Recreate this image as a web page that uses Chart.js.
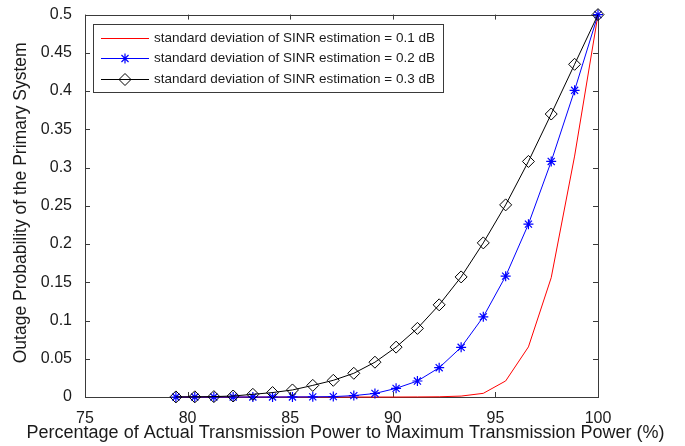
<!DOCTYPE html>
<html>
<head>
<meta charset="utf-8">
<script src="https://cdn.jsdelivr.net/npm/chart.js@4.4.1/dist/chart.umd.min.js"></script>
<style>
  html, body { margin: 0; padding: 0; background: #ffffff; }
  canvas { display: block; }
</style>
</head>
<body>
<canvas id="outageChart" width="685" height="446"></canvas>
<script>
// Transmit power as a percentage of the maximum (x axis)
const powerPct = [79.43, 80.35, 81.28, 82.22, 83.18, 84.14, 85.11, 86.10, 87.10, 88.10,
                  89.13, 90.16, 91.20, 92.26, 93.33, 94.41, 95.50, 96.61, 97.72, 98.86, 100];

// Outage probability of the primary system for each SINR-estimation error
const outageSd01 = [0, 0, 0, 0, 0, 0, 0, 0, 0, 0,
                    0, 0, 0.0001, 0.0003, 0.0012, 0.0048, 0.021, 0.0655, 0.156, 0.315, 0.5];
const outageSd02 = [0, 0, 0, 0, 0, 0, 0.0001, 0.0002, 0.0005, 0.0018,
                    0.0046, 0.0113, 0.0209, 0.0383, 0.065, 0.1048, 0.158, 0.226, 0.308, 0.401, 0.5];
const outageSd03 = [0.0001, 0.0002, 0.0005, 0.0013, 0.0035, 0.0058, 0.0092, 0.0152, 0.0218, 0.031,
                    0.0455, 0.0652, 0.0897, 0.1205, 0.157, 0.2015, 0.2512, 0.308, 0.37, 0.435, 0.5];

const seriesNames = [
  'standard deviation of SINR estimation = 0.1 dB',
  'standard deviation of SINR estimation = 0.2 dB',
  'standard deviation of SINR estimation = 0.3 dB'
];

const xTickValues = [75, 80, 85, 90, 95, 100];
const xTickLabels = ['75', '80', '85', '90', '95', '100'];
const yTickValues = [0, 0.05, 0.1, 0.15, 0.2, 0.25, 0.3, 0.35, 0.4, 0.45, 0.5];
const yTickLabels = ['0', '0.05', '0.1', '0.15', '0.2', '0.25', '0.3', '0.35', '0.4', '0.45', '0.5'];

const xTitle = 'Percentage of Actual Transmission Power to Maximum Transmission Power (%)';
const yTitle = 'Outage Probability of the Primary System';

const FONT = '"Liberation Sans", Arial, Helvetica, sans-serif';
const TEXT = '#1a1a1a';
const FRAME = '#3a3a3a';

const toPoints = ys => powerPct.map((x, i) => ({ x: x, y: ys[i] }));

// Axis box with inward tick marks on all four sides
const frameTicks = {
  id: 'frameTicks',
  beforeDatasetsDraw(chart) {
    const { ctx, chartArea: a, scales } = chart;
    const len = 5;
    ctx.save();
    ctx.strokeStyle = FRAME;
    ctx.lineWidth = 1;
    ctx.beginPath();
    xTickValues.forEach(v => {
      const px = Math.round(scales.x.getPixelForValue(v)) + 0.5;
      ctx.moveTo(px, a.bottom); ctx.lineTo(px, a.bottom - len);
      ctx.moveTo(px, a.top); ctx.lineTo(px, a.top + len);
    });
    yTickValues.forEach(v => {
      const py = Math.round(scales.y.getPixelForValue(v)) + 0.5;
      ctx.moveTo(a.left, py); ctx.lineTo(a.left + len, py);
      ctx.moveTo(a.right, py); ctx.lineTo(a.right - len, py);
    });
    ctx.stroke();
    ctx.strokeRect(Math.round(a.left) + 0.5, Math.round(a.top) + 0.5,
                   Math.round(a.right - a.left), Math.round(a.bottom - a.top));
    ctx.restore();
  }
};

// Axis titles, centred on the plot area
const axisTitles = {
  id: 'axisTitles',
  afterDraw(chart) {
    const { ctx, chartArea: a } = chart;
    ctx.save();
    ctx.fillStyle = TEXT;
    ctx.textAlign = 'center';
    ctx.textBaseline = 'middle';
    ctx.font = '18px ' + FONT;
    ctx.fillText(xTitle, (a.left + a.right) / 2 + 4, 433);
    ctx.font = '17.5px ' + FONT;
    ctx.translate(21, (a.top + a.bottom) / 2 - 3);
    ctx.rotate(-Math.PI / 2);
    ctx.fillText(yTitle, 0, 0);
    ctx.restore();
  }
};

// Boxed legend in the upper-left corner of the plot
const boxLegend = {
  id: 'boxLegend',
  afterDatasetsDraw(chart) {
    const { ctx, chartArea: a } = chart;
    const left = Math.round(a.left + 8), top = 24;
    const rowY = [37.5, 58, 78.5];
    const lineX0 = left + 8, lineX1 = left + 56, textX = left + 61;
    ctx.save();
    ctx.font = '13.5px ' + FONT;
    let maxW = 0;
    chart.data.datasets.forEach(ds => { maxW = Math.max(maxW, ctx.measureText(ds.label).width); });
    const right = Math.round(textX + maxW + 8);
    const bottom = 92;
    ctx.fillStyle = '#ffffff';
    ctx.fillRect(left, top, right - left, bottom - top);
    ctx.strokeStyle = FRAME;
    ctx.lineWidth = 1;
    ctx.strokeRect(left + 0.5, top + 0.5, right - left, bottom - top);
    chart.data.datasets.forEach((ds, i) => {
      const y = Math.round(rowY[i]) + 0.5;
      ctx.strokeStyle = ds.borderColor;
      ctx.lineWidth = ds.borderWidth;
      ctx.beginPath();
      ctx.moveTo(lineX0, y); ctx.lineTo(lineX1, y);
      ctx.stroke();
      if (ds.pointRadius > 0) {
        ctx.strokeStyle = ds.pointBorderColor;
        ctx.fillStyle = ds.pointBackgroundColor;
        ctx.lineWidth = ds.pointBorderWidth;
        Chart.helpers.drawPoint(ctx, {
          pointStyle: ds.pointStyle, radius: ds.pointRadius, rotation: 0, borderWidth: ds.pointBorderWidth
        }, (lineX0 + lineX1) / 2, y);
      }
      ctx.fillStyle = TEXT;
      ctx.textBaseline = 'middle';
      ctx.textAlign = 'left';
      ctx.fillText(ds.label, textX, y);
    });
    ctx.restore();
  }
};

new Chart(document.getElementById('outageChart'), {
  type: 'line',
  data: {
    datasets: [
      {
        label: seriesNames[0], data: toPoints(outageSd01), order: 3,
        borderColor: '#ff0000', borderWidth: 1, pointRadius: 0, pointHoverRadius: 0,
        pointStyle: 'circle', pointBorderColor: '#ff0000', pointBackgroundColor: 'rgba(0,0,0,0)',
        pointBorderWidth: 1, tension: 0, clip: false
      },
      {
        label: seriesNames[1], data: toPoints(outageSd02), order: 2,
        borderColor: '#0000ff', borderWidth: 1, pointRadius: 5, pointHoverRadius: 5,
        pointStyle: 'star', pointBorderColor: '#0000ff', pointBackgroundColor: 'rgba(0,0,0,0)',
        pointBorderWidth: 1.2, tension: 0, clip: false
      },
      {
        label: seriesNames[2], data: toPoints(outageSd03), order: 1,
        borderColor: '#000000', borderWidth: 1, pointRadius: 6, pointHoverRadius: 6,
        pointStyle: 'rectRot', pointBorderColor: '#000000', pointBackgroundColor: 'rgba(0,0,0,0)',
        pointBorderWidth: 1, tension: 0, clip: false
      }
    ]
  },
  options: {
    responsive: false,
    animation: false,
    devicePixelRatio: 1,
    events: [],
    layout: { padding: { left: 0, top: 13, right: 87, bottom: 0 } },
    plugins: { legend: { display: false }, tooltip: { enabled: false } },
    scales: {
      x: {
        type: 'linear', min: 75, max: 100,
        afterBuildTicks: s => { s.ticks = xTickValues.map(v => ({ value: v })); },
        afterFit: s => { s.height = 49; },
        grid: { display: false }, border: { display: false },
        ticks: {
          autoSkip: false, maxRotation: 0, padding: 4, color: TEXT,
          font: { family: FONT, size: 16 },
          callback: (v, i) => xTickLabels[i]
        }
      },
      y: {
        type: 'linear', min: 0, max: 0.5,
        afterBuildTicks: s => { s.ticks = yTickValues.map(v => ({ value: v })); },
        afterFit: s => { s.width = 85; },
        grid: { display: false }, border: { display: false },
        ticks: {
          autoSkip: false, padding: 5, color: TEXT,
          font: { family: FONT, size: 16 },
          callback: (v, i) => yTickLabels[i]
        }
      }
    }
  },
  plugins: [frameTicks, axisTitles, boxLegend]
});
</script>
</body>
</html>
